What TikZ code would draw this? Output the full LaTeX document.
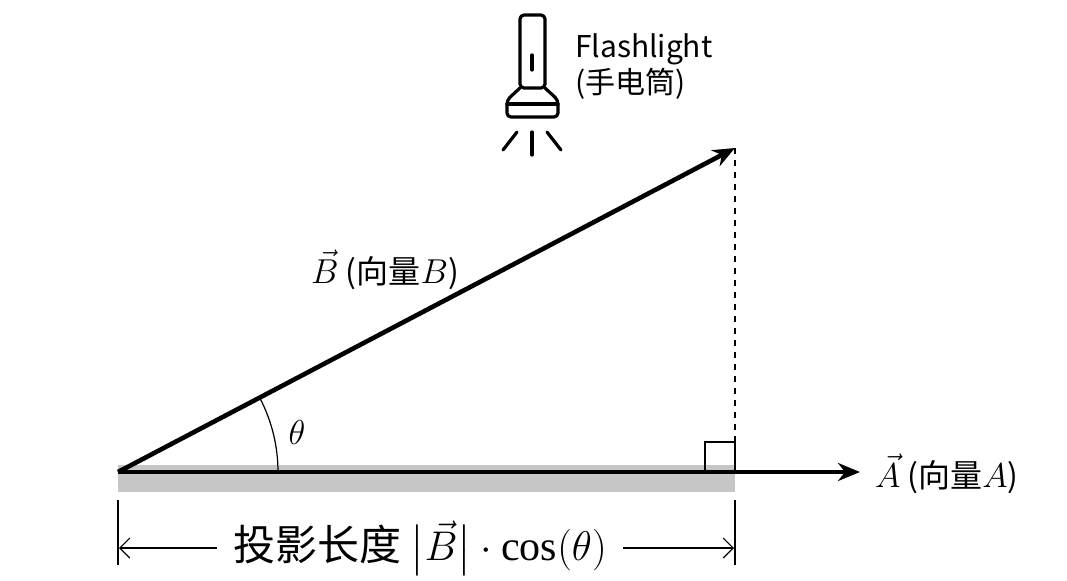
\documentclass[tikz,border=0pt]{standalone}
\usepackage{fontspec}
\setmainfont{Liberation Serif}
\newfontfamily\cjk{Noto Sans CJK SC}
\usepackage{amsmath}
\usetikzlibrary{arrows.meta,patterns}
\begin{document}
\begin{tikzpicture}[x=0.5pt,y=-0.5pt,
vec/.style={line width=2.3pt,-{Stealth[length=11pt,width=9pt]}},
dim/.style={line width=0.6pt,-{Straight Barb[length=5pt]}},
icon/.style={line width=1.6pt,line cap=round,line join=round},
lbl/.style={font=\cjk\fontsize{16}{19}\selectfont}]
\useasboundingbox (0,0) rectangle (1067,580);
% shadow of B on A
\fill[gray!45] (118,465) rectangle (735,492);
\coordinate (O) at (118,472);
\coordinate (P) at (735,472);
\coordinate (Bt) at (735,148);
\coordinate (At) at (860,472);
\draw[dashed,line width=0.6pt] (Bt) -- (P);
\draw[line width=0.6pt] (705,472) -- (705,442) -- (735,442) -- (735,472);
\draw[line width=0.6pt] (278,472) arc[start angle=0,end angle=-27.6,radius=160];
\draw[vec] (O) -- (At);
\draw[vec] (O) -- (Bt);
\node (theta) at (297,432) {\fontsize{17}{20}\selectfont$\theta$};
\node[lbl] (labB) at (385,270) {$\vec{B}$ (向量$B$)};
\node[lbl,anchor=west] (labA) at (868,474) {$\vec{A}$ (向量$A$)};
% dimension
\draw[line width=0.6pt] (118,500) -- (118,565);
\draw[line width=0.6pt] (735,500) -- (735,565);
\node[font=\cjk\fontsize{21}{24}\selectfont,inner xsep=8pt] (len) at (420,548) {投影长度 $\bigl|\vec{B}\bigr|\cdot\cos(\theta)$};
\coordinate (dl) at (119,548);
\coordinate (dr) at (734,548);
\draw[dim] (len.west) -- (dl);
\draw[dim] (len.east) -- (dr);
% flashlight
\draw[icon,rounded corners=2pt] (520,15) rectangle (545,88);
\draw[icon] (532,55) -- (532,70);
\draw[icon,rounded corners=2pt] (520,88) -- (507,100) -- (507,117) -- (558,117) -- (558,100) -- (545,88);
\draw[icon] (507,104) -- (558,104);
\draw[icon] (532,132) -- (532,155);
\draw[icon] (517,132) -- (503,150);
\draw[icon] (547,132) -- (561,150);
\node[font=\cjk\fontsize{15}{18}\selectfont,align=left,anchor=west] (lamp) at (568,66) {Flashlight\\(手电筒)};
\end{tikzpicture}
\end{document}
